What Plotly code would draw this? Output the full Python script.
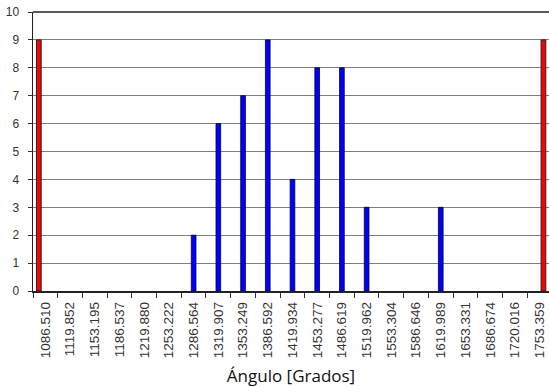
import plotly.graph_objects as go

categories = ["1086.510", "1119.852", "1153.195", "1186.537", "1219.880", "1253.222",
              "1286.564", "1319.907", "1353.249", "1386.592", "1419.934", "1453.277",
              "1486.619", "1519.962", "1553.304", "1586.646", "1619.989", "1653.331",
              "1686.674", "1720.016", "1753.359"]
frequencies = [0, 0, 0, 0, 0, 0, 2, 6, 7, 9, 4, 8, 8, 3, 0, 0, 3, 0, 0, 0, 0]
limit_categories = ["1086.510", "1753.359"]
limit_values = [9, 9]

fig = go.Figure()
fig.add_trace(go.Bar(
    x=categories, y=frequencies, width=0.19,
    marker=dict(color="#0000FF",
                line=dict(color="#000033", width=[0.8 if v > 0 else 0 for v in frequencies])),
    showlegend=False, hoverinfo="skip",
))
fig.add_trace(go.Bar(
    x=limit_categories, y=limit_values, width=0.19, offset=[-0.36, 0.06],
    marker=dict(color="#FF0000", line=dict(color="#222222", width=1)),
    showlegend=False, hoverinfo="skip",
))

fig.update_layout(
    template="none",
    width=549, height=387,
    margin=dict(l=33, r=0, t=12, b=96, pad=0),
    paper_bgcolor="white", plot_bgcolor="white",
    barmode="overlay",
    font=dict(family="Liberation Sans, Arial, sans-serif", size=12, color="#333333"),
    xaxis=dict(
        type="category", range=[-0.5, 20.38],
        tickson="boundaries", ticks="outside", ticklen=5, tickcolor="#333333", tickwidth=1,
        tickangle=-90, tickfont=dict(size=13.5, color="#333333"), ticklabelstandoff=4,
        ticklabeloverflow="allow",
        showline=True, linecolor="#222222", linewidth=1.5,
        showgrid=False, automargin=False, zeroline=False,
        title=dict(text="Ángulo [Grados]", standoff=14,
                   font=dict(family="Open Sans, Noto Sans, sans-serif", size=17, color="#111111")),
    ),
    yaxis=dict(
        range=[0, 10], dtick=1, tick0=0, ticks="outside", ticklen=4, tickcolor="#333333", tickwidth=1,
        showline=True, linecolor="#222222", linewidth=1.5,
        showgrid=True, gridcolor="rgb(128,128,128)", gridwidth=1,
        zeroline=False, automargin=False, ticklabelstandoff=6, ticklabeloverflow="allow",
        tickfont=dict(size=12, color="#333333"),
    ),
    shapes=[dict(type="line", xref="paper", yref="paper", x0=0, x1=1, y0=1, y1=1,
                 line=dict(color="#222222", width=1.5))],
)

fig.write_html("out.html", config={"displayModeBar": False, "staticPlot": True},
               post_script="document.body.style.margin='0';document.body.style.overflow='hidden';")
